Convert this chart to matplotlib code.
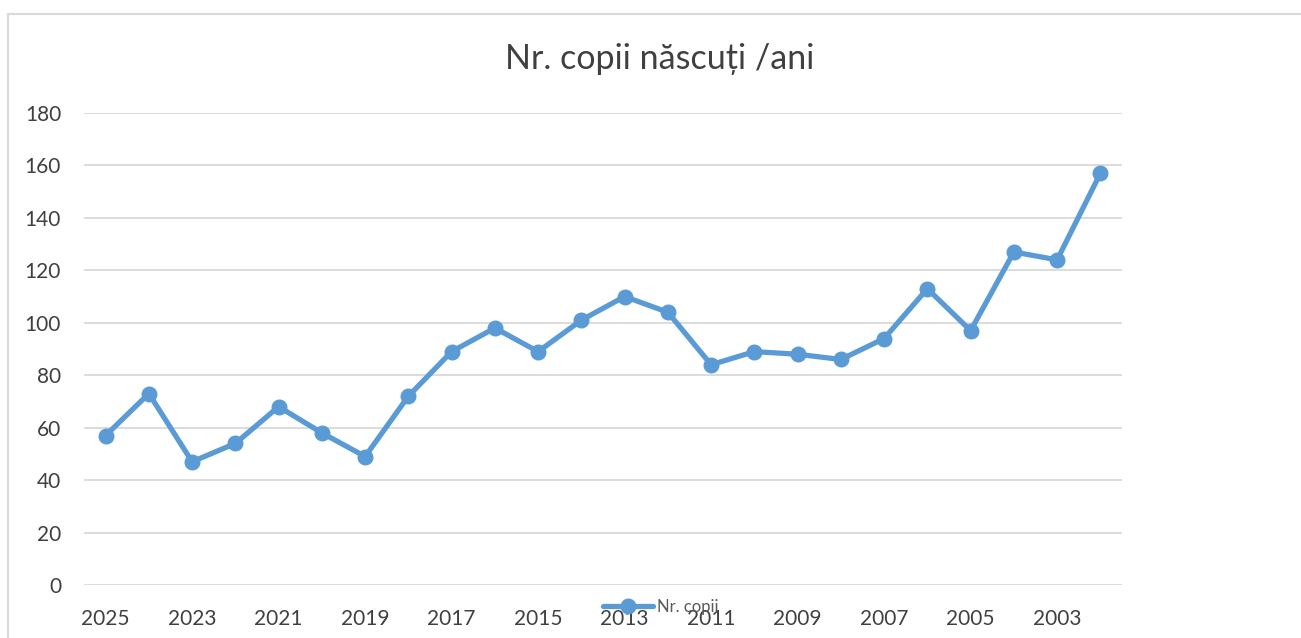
import matplotlib
matplotlib.use("Agg")
import matplotlib.pyplot as plt
from matplotlib.lines import Line2D

plt.rcParams['font.family'] = ['Lato', 'DejaVu Sans']

years = [2025, 2024, 2023, 2022, 2021, 2020, 2019, 2018, 2017, 2016, 2015, 2014,
         2013, 2012, 2011, 2010, 2009, 2008, 2007, 2006, 2005, 2004, 2003, 2002]
births = [57, 73, 47, 54, 68, 58, 49, 72, 89, 98, 89, 101,
          110, 104, 84, 89, 88, 86, 94, 113, 97, 127, 124, 157]
title = "Nr. copii născuți /ani"
series_name = "Nr. copii"
yticks = [0, 20, 40, 60, 80, 100, 120, 140, 160, 180]

W, H = 1301, 638
fig = plt.figure(figsize=(W / 100, H / 100), dpi=100)

# chart border (top and left visible)
border_col = '#D9D9D9'
fig.add_artist(Line2D([8 / W, 1.0], [1 - 14 / H, 1 - 14 / H], transform=fig.transFigure,
                      color=border_col, lw=1.5))
fig.add_artist(Line2D([8 / W, 8 / W], [1 - 14 / H, 0], transform=fig.transFigure,
                      color=border_col, lw=1.5))

ax = fig.add_axes([84 / W, (H - 585) / H, (1122 - 84) / W, (585 - 113) / H])
x = list(range(len(years)))
line, = ax.plot(x, births, color='#5B9BD5', lw=3.8, marker='o', markersize=10.5,
                solid_capstyle='round', label=series_name, zorder=3)
ax.set_xlim(-0.5, len(years) - 0.5)
ax.set_ylim(0, 180)
ax.set_yticks(yticks)
ax.set_xticks(x[::2])
ax.set_xticklabels([str(y) for y in years[::2]])
for s in ax.spines.values():
    s.set_visible(False)
ax.grid(axis='y', color='#D9D9D9', lw=1.3, zorder=0)
ax.set_axisbelow(True)
ax.tick_params(axis='both', length=0, labelsize=15, colors='#404040')
ax.tick_params(axis='y', pad=16.5)
ax.tick_params(axis='x', pad=17.5)

fig.text(660 / W, 1 - 59 / H, title, ha='center', va='center', fontsize=24.5, color='#404040')

leg = fig.legend(handles=[line], loc='center', bbox_to_anchor=(661 / W, 1 - 607 / H),
                 frameon=False, fontsize=12, handlelength=3.0, handletextpad=0.25,
                 labelcolor='#595959')

fig.savefig('out.png', dpi=100, facecolor='white')
